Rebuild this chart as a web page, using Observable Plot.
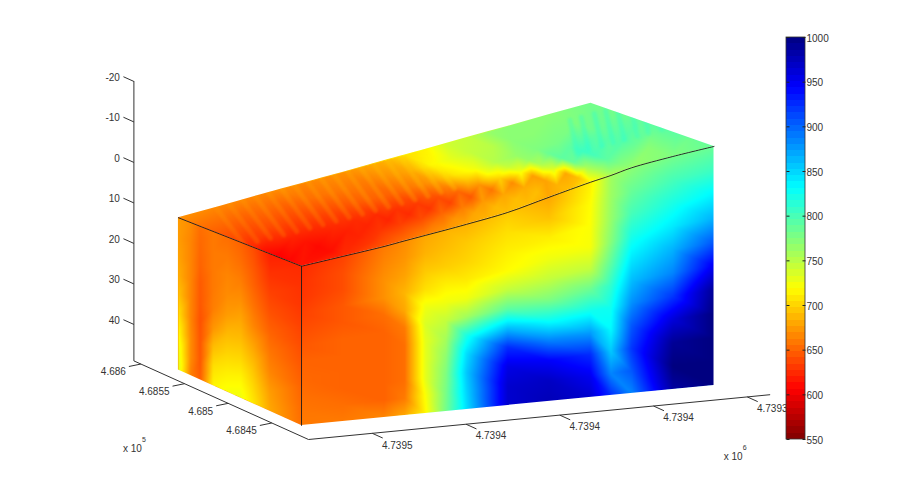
<!DOCTYPE html>
<html>
<head>
<meta charset="utf-8">
<script src="https://cdn.jsdelivr.net/npm/d3@7"></script>
<script src="https://cdn.jsdelivr.net/npm/@observablehq/plot@0.6"></script>
<style>html,body{margin:0;padding:0;background:#fff}svg{display:block}</style>
</head>
<body>
<div id="chart"></div>
<script>
// ---------- data ----------
const eastTicks = [4739500, 4739450, 4739400, 4739350, 4739300];
const eastTickLabels = ["4.7395", "4.7394", "4.7394", "4.7394", "4.7393"];
const northTicks = [468450, 468500, 468550, 468600];
const northTickLabels = ["4.6845", "4.685", "4.6855", "4.686"];
const depthTicks = [-20, -10, 0, 10, 20, 30, 40];
const barTicks = [550, 600, 650, 700, 750, 800, 850, 900, 950, 1000];

const frontEast = [4739534, 4739512, 4739490, 4739479, 4739468, 4739457, 4739446, 4739424, 4739402, 4739380, 4739369, 4739358, 4739336, 4739314];
const sideNorth = [468557, 468543, 468532, 468517, 468501, 468486, 468471, 468452, 468416];
const surfaceDepth = [7.0, 5.56, 4.1, 3.2, 2.35, 1.5, 0.6, -1.35, -4.1, -6.8, -8.0, -9.4, -11.2, -12.7];
const backDepth = [8.7, 6.9, 5.0, 4.1, 3.2, 2.3, 1.4, -0.5, -2.3, -4.2, -5.1, -6.0, -7.9, -9.7];
const floorDepth = 46.3;
const nearNorth = 468416, farNorth = 468557;

const frontFractions = [0, .1, .2, .3, .4, .5, .6, .7, .8, .9, 1];
const frontValues = [
  [625, 628, 630, 635, 640, 645, 650, 652, 655, 658, 660],
  [635, 640, 640, 645, 645, 650, 650, 650, 650, 655, 660],
  [660, 665, 670, 670, 655, 650, 650, 650, 650, 650, 665],
  [668, 672, 678, 686, 680, 660, 655, 655, 655, 660, 680],
  [680, 685, 695, 705, 725, 735, 730, 730, 730, 720, 715],
  [685, 690, 697, 712, 725, 745, 758, 768, 775, 778, 780],
  [685, 695, 700, 710, 725, 760, 820, 845, 855, 850, 845],
  [695, 705, 712, 718, 745, 790, 860, 925, 955, 965, 965],
  [680, 692, 712, 725, 745, 775, 825, 885, 945, 970, 975],
  [712, 718, 720, 722, 745, 785, 825, 875, 925, 950, 965],
  [760, 762, 765, 772, 790, 810, 825, 833, 855, 885, 925],
  [770, 785, 800, 820, 840, 860, 880, 905, 920, 905, 885],
  [780, 800, 820, 840, 865, 885, 920, 960, 990, 1000, 985],
  [785, 805, 835, 865, 905, 950, 990, 1000, 1000, 1000, 1000]
];

const sideFractions = [0, .125, .25, .375, .5, .625, .75, .875, 1];
const sideValues = [
  [675, 675, 678, 683, 692, 705, 718, 730, 735],
  [668, 665, 665, 665, 665, 665, 668, 668, 662],
  [655, 652, 650, 646, 645, 642, 644, 645, 648],
  [660, 660, 660, 660, 662, 672, 690, 705, 715],
  [655, 660, 665, 668, 675, 688, 700, 712, 722],
  [650, 655, 662, 670, 680, 690, 702, 715, 725],
  [640, 645, 650, 657, 665, 678, 690, 700, 708],
  [620, 628, 635, 642, 650, 658, 665, 675, 680],
  [625, 628, 630, 635, 640, 645, 650, 653, 655]
];

const topEast = [4739534, 4739512, 4739490, 4739479, 4739468, 4739457, 4739446, 4739435, 4739424, 4739413, 4739402, 4739391, 4739380, 4739369, 4739358, 4739336, 4739314];
const topFractions = [0, .1, .2, .3, .4, .5, .6, .8, 1];
const topValues = [
  [615, 608, 605, 612, 625, 635, 642, 655, 670],
  [625, 612, 610, 615, 622, 632, 640, 650, 665],
  [645, 630, 622, 620, 625, 630, 638, 650, 665],
  [655, 642, 630, 622, 625, 632, 640, 655, 668],
  [665, 650, 635, 622, 625, 635, 645, 658, 665],
  [672, 660, 640, 625, 628, 640, 650, 660, 668],
  [680, 672, 652, 630, 632, 640, 650, 660, 670],
  [685, 680, 662, 636, 640, 650, 660, 670, 678],
  [690, 688, 675, 645, 652, 665, 675, 680, 685],
  [690, 690, 680, 658, 672, 695, 708, 715, 705],
  [680, 690, 682, 668, 700, 722, 725, 730, 715],
  [690, 685, 678, 676, 725, 745, 752, 745, 740],
  [712, 690, 680, 735, 755, 765, 765, 750, 745],
  [755, 755, 760, 785, 790, 785, 775, 770, 765],
  [765, 775, 790, 800, 805, 790, 778, 770, 770],
  [775, 772, 770, 785, 795, 790, 785, 775, 770],
  [785, 785, 782, 790, 790, 790, 788, 780, 780]
];

// the ridged streaks that cross the top surface
const warmStreakEast = [4739514, 4739507, 4739500, 4739493, 4739486, 4739479, 4739472, 4739465, 4739458, 4739451, 4739444, 4739437, 4739430, 4739423, 4739416, 4739409, 4739402];
const warmStreakValues = [680, 680, 682, 684, 684, 686, 688, 688, 690, 692, 692, 694, 696, 700, 704, 708, 712];
const coolStreakEast = [4739335, 4739329, 4739322, 4739316, 4739310, 4739303, 4739297, 4739290, 4739284, 4739278, 4739271];
const coolStreakValues = [815, 818, 820, 820, 818, 815, 812, 810, 808, 808, 806];

const jetDomain = [550, 606.25, 718.75, 831.25, 943.75, 1000];
const jetRange = ["rgb(128,0,0)", "rgb(255,0,0)", "rgb(255,255,0)", "rgb(0,255,255)", "rgb(0,0,255)", "rgb(0,0,128)"];

// ---------- view: data coordinates to picture ----------
const east0 = 4739534, north0 = 468408, depthBase = 49;
const projX = (e, n) => 308 + (east0 - e) * 1.875 - (n - north0) * 0.873;
const projY = (e, n, d) => 439 - (east0 - e) * 0.182 - (n - north0) * 0.393 + (d - depthBase) * 4.05;
const X = d => projX(d.e, d.n);
const Y = d => projY(d.e, d.n, d.d);

const nearDepthAt = d3.scaleLinear(frontEast, surfaceDepth);
const backDepthAt = d3.scaleLinear(frontEast, backDepth);
const surfacePoint = (e, s, id, v) => ({
  e, n: nearNorth + s * (farNorth - nearNorth),
  d: nearDepthAt(e) + s * (backDepthAt(e) - nearDepthAt(e)), id, v
});

const front = frontEast.flatMap((e, i) => frontFractions.map((t, j) => ({
  e, n: nearNorth, d: surfaceDepth[i] + t * (floorDepth - surfaceDepth[i]), v: frontValues[i][j]
})));
const side = sideNorth.flatMap((n, i) => sideFractions.map((t, j) => {
  const s = (n - nearNorth) / (farNorth - nearNorth);
  const top = surfaceDepth[0] + s * (backDepth[0] - surfaceDepth[0]);
  return {e: east0, n, d: top + t * (floorDepth - top), v: sideValues[i][j]};
}));
const topFace = topEast.flatMap((e, i) => topFractions.map((s, j) => surfacePoint(e, s, i, topValues[i][j])));

const warmStreaks = warmStreakEast.flatMap((e, i) => [
  surfacePoint(e, 1, i, warmStreakValues[i]), surfacePoint(e + 21, 0.45, i, warmStreakValues[i])
]);
const coolStreaks = coolStreakEast.flatMap((e, i) => [
  surfacePoint(e, 0.85, i, coolStreakValues[i]), surfacePoint(e + 25.6, 0.4, i, coolStreakValues[i])
]);

const nearEdge = frontEast.map((e, i) => ({e, n: nearNorth, d: surfaceDepth[i]}));
const backEdge = frontEast.map((e, i) => ({e, n: farNorth, d: backDepth[i]}));
const sideEdge = [{e: east0, n: farNorth, d: backDepth[0]}, {e: east0, n: nearNorth, d: surfaceDepth[0]}];
const cornerEdge = [{e: east0, n: nearNorth, d: surfaceDepth[0]}, {e: east0, n: nearNorth, d: floorDepth}];
const floorFront = [frontEast[frontEast.length - 1], east0].map(e => ({e, n: nearNorth, d: floorDepth}));
const floorSide = {e: east0, n: farNorth, d: floorDepth};

const frontOutline = [...nearEdge, ...floorFront];
const sideOutline = [...sideEdge, cornerEdge[1], floorSide];
const topOutline = [...nearEdge, ...backEdge.slice().reverse()];

const axisEnd = {e: 4739288, n: north0, d: depthBase};
const axisCorner = {e: east0, n: north0, d: depthBase};
const axisFar = {e: east0, n: 468608, d: depthBase};
const axisTop = {e: east0, n: 468608, d: -20};
const axisPath = [axisEnd, axisCorner, axisFar, axisTop];

const eastData = eastTicks.map((e, i) => ({e, n: north0, d: depthBase, label: eastTickLabels[i]}));
const northData = northTicks.map((n, i) => ({e: east0, n, d: depthBase, label: northTickLabels[i]}));
const depthData = depthTicks.map(d => ({e: east0, n: 468608, d, label: String(d)}));

const ink = "#333";
const font = "Liberation Sans";

// clip a mark to the outline of its face, through the plot's own scales
const clipTo = (outline, id) => (index, scales, values, dims, ctx, next) => {
  const g = next(index, scales, values, dims, ctx);
  const ns = "http://www.w3.org/2000/svg";
  const clip = document.createElementNS(ns, "clipPath");
  clip.setAttribute("id", id);
  const poly = document.createElementNS(ns, "polygon");
  poly.setAttribute("points", outline.map(p => `${scales.x(X(p))},${scales.y(Y(p))}`).join(" "));
  clip.append(poly);
  const wrap = document.createElementNS(ns, "g");
  wrap.append(clip, g);
  wrap.setAttribute("clip-path", `url(#${id})`);
  return wrap;
};

// colour bar
const barY = d3.scaleLinear([550, 1000], [439, 37]);
const barStep = 450 / 64;
const barLevels = d3.range(64).map(i => 550 + (i + 0.5) * barStep);

const plot = Plot.plot({
  width: 909, height: 494,
  marginTop: 0, marginRight: 0, marginBottom: 0, marginLeft: 0,
  style: {background: "#fff", fontFamily: font, fontSize: "10px"},
  x: {domain: [0, 909], range: [0, 909], axis: null},
  y: {domain: [0, 494], range: [0, 494], axis: null},
  color: {type: "linear", domain: jetDomain, range: jetRange, clamp: true},
  marks: [
    Plot.raster(side, {x: X, y: Y, fill: "v", interpolate: "barycentric", render: clipTo(sideOutline, "clip-side")}),
    Plot.raster(front, {x: X, y: Y, fill: "v", interpolate: "barycentric", render: clipTo(frontOutline, "clip-front")}),
    Plot.raster(topFace, {x: X, y: Y, fill: "v", interpolate: "barycentric", render: clipTo(topOutline, "clip-top")}),
    Plot.line(warmStreaks, {x: X, y: Y, z: "id", stroke: "v", strokeOpacity: 0.2, strokeWidth: 5, imageFilter: "blur(1.2px)", render: clipTo(topOutline, "clip-warm")}),
    Plot.line(coolStreaks, {x: X, y: Y, z: "id", stroke: "v", strokeOpacity: 0.28, strokeWidth: 5, imageFilter: "blur(1.2px)", render: clipTo(topOutline, "clip-cool")}),
    Plot.line(nearEdge, {x: X, y: Y, curve: "catmull-rom", stroke: "#1a1a1a", strokeWidth: 0.9}),
    Plot.line(sideEdge, {x: X, y: Y, stroke: "#1a1a1a", strokeWidth: 0.9}),
    Plot.line(cornerEdge, {x: X, y: Y, stroke: "#1a1a1a", strokeWidth: 0.9}),

    Plot.line(axisPath, {x: X, y: Y, stroke: ink, strokeWidth: 1}),
    Plot.link(eastData, {x1: X, y1: Y, x2: d => projX(d.e, d.n - 12), y2: d => projY(d.e, d.n - 12, d.d), stroke: ink}),
    Plot.link(northData, {x1: X, y1: Y, x2: d => projX(d.e + 6.4, d.n), y2: d => projY(d.e + 6.4, d.n, d.d) + 1.3, stroke: ink}),
    Plot.link(depthData, {x1: X, y1: Y, x2: d => projX(d.e, d.n + 12), y2: d => projY(d.e, d.n + 12, d.d), stroke: ink}),

    Plot.text(eastData, {x: X, y: Y, text: "label", dx: 25, dy: 12, textAnchor: "middle", fill: ink, fontSize: 10}),
    Plot.text(northData, {x: X, y: Y, text: "label", dx: -15, dy: 8, textAnchor: "end", fill: ink, fontSize: 10}),
    Plot.text(depthData, {x: X, y: Y, text: "label", dx: -14, dy: -4, textAnchor: "end", fill: ink, fontSize: 10}),

    Plot.text(["x 10"], {x: () => projX(axisFar.e, axisFar.n), y: () => projY(axisFar.e, axisFar.n, axisFar.d), dx: -11, dy: 88, textAnchor: "start", fill: ink, fontSize: 10}),
    Plot.text(["5"], {x: () => projX(axisFar.e, axisFar.n), y: () => projY(axisFar.e, axisFar.n, axisFar.d), dx: 8, dy: 79, textAnchor: "start", fill: ink, fontSize: 7}),
    Plot.text(["x 10"], {x: () => projX(axisEnd.e, axisEnd.n), y: () => projY(axisEnd.e, axisEnd.n, axisEnd.d), dx: -46, dy: 62, textAnchor: "start", fill: ink, fontSize: 10}),
    Plot.text(["6"], {x: () => projX(axisEnd.e, axisEnd.n), y: () => projY(axisEnd.e, axisEnd.n, axisEnd.d), dx: -27, dy: 53, textAnchor: "start", fill: ink, fontSize: 7}),

    Plot.rect(barLevels, {
      x1: () => 786, x2: () => 805,
      y1: v => barY(v - barStep / 2), y2: v => barY(v + barStep / 2),
      fill: v => v, shapeRendering: "crispEdges"
    }),
    Plot.rect([0], {x1: () => 786, x2: () => 805, y1: () => barY(550), y2: () => barY(1000), stroke: ink, fill: "none", strokeWidth: 0.8}),
    Plot.link(barTicks, {x1: () => 786, x2: () => 789, y1: v => barY(v), y2: v => barY(v), stroke: "#222"}),
    Plot.link(barTicks, {x1: () => 802, x2: () => 805, y1: v => barY(v), y2: v => barY(v), stroke: "#222"}),
    Plot.text(barTicks, {x: () => 806, y: v => barY(v), dy: 1, text: v => String(v), textAnchor: "start", fill: ink, fontSize: 10})
  ]
});
document.getElementById("chart").append(plot);
</script>
</body>
</html>
